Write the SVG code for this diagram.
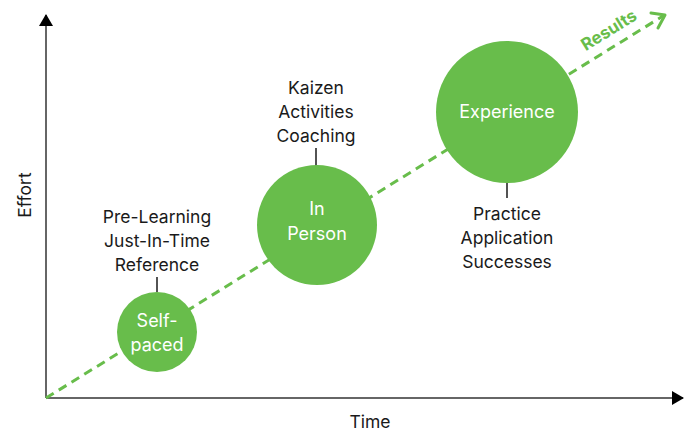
<svg xmlns="http://www.w3.org/2000/svg" width="684" height="432" viewBox="0 0 684 432">
<style>
.lbl{font-family:Inter,"Liberation Sans",sans-serif;font-size:17.5px;fill:#1a1a1a;text-anchor:middle}
.in{font-family:Inter,"Liberation Sans",sans-serif;font-size:18px;fill:#ffffff;text-anchor:middle}
.node{fill:#68bd4b}
.tick{stroke:#1a1a1a;stroke-width:1.5}
.axis{stroke:#333;stroke-width:1.5;fill:none}
</style>
<defs>
<marker id="ah" markerWidth="12" markerHeight="14" refX="11" refY="7" orient="auto" markerUnits="userSpaceOnUse">
<path d="M0,0 L12,7 L0,14 Z" fill="#000"/>
</marker>
</defs>
<g id="connectors">
<line class="axis" x1="46" y1="398" x2="46" y2="15" marker-end="url(#ah)"/>
<line class="axis" x1="46" y1="398" x2="683" y2="398" marker-end="url(#ah)"/>
<line x1="46" y1="398" x2="663" y2="16" stroke="#68bd4b" stroke-width="3" stroke-dasharray="9,6"/>
<polyline points="651,13 665,15 658,28" fill="none" stroke="#68bd4b" stroke-width="3" stroke-linecap="round" stroke-linejoin="round"/>
<line class="tick" x1="157" y1="277" x2="157" y2="292"/>
<line class="tick" x1="316" y1="148" x2="316" y2="166"/>
<line class="tick" x1="507" y1="183" x2="507" y2="198"/>
</g>
<text x="612" y="35" transform="rotate(-31.8 612 35)" font-family="Inter,'Liberation Sans',sans-serif" font-size="17" font-weight="bold" fill="#68bd4b" text-anchor="middle">Results</text>
<text x="31" y="195" transform="rotate(-90 31 195)" class="lbl">Effort</text>
<text x="370" y="428" class="lbl">Time</text>
<g id="self-paced">
<circle class="node" cx="157" cy="332" r="40"/>
<text class="in" x="157" y="327">Self-</text>
<text class="in" x="157" y="351">paced</text>
<text class="lbl" x="157" y="223">Pre-Learning</text>
<text class="lbl" x="157" y="247">Just-In-Time</text>
<text class="lbl" x="157" y="271">Reference</text>
</g>
<g id="in-person">
<circle class="node" cx="317" cy="225" r="60"/>
<text class="in" x="317" y="215">In</text>
<text class="in" x="317" y="240">Person</text>
<text class="lbl" x="316" y="94">Kaizen</text>
<text class="lbl" x="316" y="118">Activities</text>
<text class="lbl" x="316" y="142">Coaching</text>
</g>
<g id="experience">
<circle class="node" cx="507" cy="112" r="71"/>
<text class="in" x="507" y="118">Experience</text>
<text class="lbl" x="507" y="220">Practice</text>
<text class="lbl" x="507" y="244">Application</text>
<text class="lbl" x="507" y="268">Successes</text>
</g>
</svg>
